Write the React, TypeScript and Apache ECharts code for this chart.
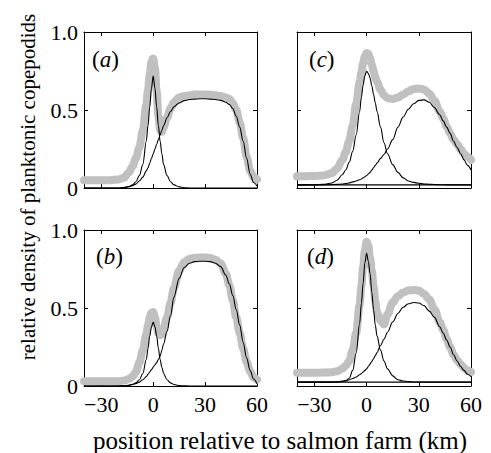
import React, { useEffect, useRef } from "react";
import * as echarts from "echarts";

const XS = [-40, -35, -30, -25, -20, -17, -14, -12, -10, -8, -6, -4, -3, -2, -1, 0, 1, 2, 3, 4, 5, 6, 8, 10, 12, 15, 18, 21, 24, 27, 30, 33, 36, 39, 42, 44, 46, 48, 50, 52, 54, 56, 58, 60];

const A_TOTAL = [0.05, 0.05, 0.05, 0.05, 0.055, 0.065, 0.1, 0.14, 0.19, 0.26, 0.37, 0.53, 0.63, 0.73, 0.81, 0.83, 0.77, 0.62, 0.46, 0.37, 0.36, 0.39, 0.45, 0.51, 0.55, 0.58, 0.59, 0.595, 0.6, 0.6, 0.6, 0.598, 0.595, 0.59, 0.58, 0.57, 0.545, 0.5, 0.42, 0.32, 0.2, 0.11, 0.07, 0.055];
const A_FARM = [0, 0, 0, 0, 0, 0.003, 0.01, 0.02, 0.04, 0.08, 0.15, 0.3, 0.4, 0.52, 0.64, 0.72, 0.64, 0.52, 0.4, 0.3, 0.22, 0.15, 0.08, 0.04, 0.02, 0.007, 0.002, 0, 0, 0, 0, 0, 0, 0, 0, 0, 0, 0, 0, 0, 0, 0, 0, 0];
const A_WILD = [0, 0, 0, 0, 0, 0.003, 0.008, 0.015, 0.025, 0.045, 0.07, 0.11, 0.13, 0.16, 0.19, 0.22, 0.25, 0.28, 0.31, 0.34, 0.37, 0.4, 0.45, 0.49, 0.52, 0.545, 0.56, 0.567, 0.57, 0.572, 0.572, 0.57, 0.567, 0.562, 0.55, 0.535, 0.51, 0.46, 0.39, 0.3, 0.19, 0.09, 0.035, 0.012];

const B_TOTAL = [0.03, 0.03, 0.03, 0.03, 0.03, 0.035, 0.045, 0.06, 0.09, 0.15, 0.23, 0.33, 0.39, 0.44, 0.47, 0.475, 0.44, 0.38, 0.34, 0.325, 0.33, 0.37, 0.44, 0.53, 0.63, 0.74, 0.795, 0.815, 0.822, 0.824, 0.824, 0.82, 0.81, 0.785, 0.72, 0.645, 0.55, 0.44, 0.34, 0.24, 0.155, 0.095, 0.055, 0.04];
const B_FARM = [0, 0, 0, 0, 0, 0.001, 0.004, 0.01, 0.02, 0.04, 0.08, 0.17, 0.24, 0.32, 0.38, 0.41, 0.38, 0.32, 0.24, 0.17, 0.12, 0.08, 0.04, 0.02, 0.01, 0.003, 0.001, 0, 0, 0, 0, 0, 0, 0, 0, 0, 0, 0, 0, 0, 0, 0, 0, 0];
const B_WILD = [0, 0, 0, 0, 0, 0.002, 0.005, 0.01, 0.015, 0.025, 0.04, 0.06, 0.075, 0.09, 0.105, 0.12, 0.135, 0.15, 0.17, 0.19, 0.23, 0.27, 0.35, 0.45, 0.57, 0.69, 0.76, 0.787, 0.797, 0.8, 0.8, 0.797, 0.787, 0.765, 0.71, 0.655, 0.58, 0.49, 0.39, 0.28, 0.18, 0.1, 0.045, 0.015];

const C_TOTAL = [0.075, 0.076, 0.077, 0.08, 0.095, 0.125, 0.18, 0.23, 0.3, 0.4, 0.54, 0.68, 0.74, 0.8, 0.845, 0.865, 0.86, 0.83, 0.79, 0.75, 0.71, 0.68, 0.63, 0.595, 0.575, 0.57, 0.58, 0.6, 0.62, 0.635, 0.638, 0.632, 0.605, 0.56, 0.49, 0.445, 0.395, 0.35, 0.31, 0.28, 0.25, 0.22, 0.2, 0.18];
const C_FARM = [0.02, 0.02, 0.021, 0.023, 0.032, 0.05, 0.085, 0.115, 0.165, 0.235, 0.34, 0.49, 0.58, 0.66, 0.72, 0.748, 0.735, 0.705, 0.655, 0.6, 0.545, 0.49, 0.39, 0.29, 0.22, 0.15, 0.1, 0.065, 0.045, 0.036, 0.03, 0.026, 0.024, 0.022, 0.021, 0.021, 0.02, 0.02, 0.02, 0.02, 0.02, 0.02, 0.02, 0.02];
const C_WILD = [0.02, 0.02, 0.02, 0.02, 0.021, 0.023, 0.026, 0.029, 0.033, 0.039, 0.045, 0.053, 0.058, 0.065, 0.072, 0.08, 0.09, 0.1, 0.115, 0.13, 0.145, 0.16, 0.19, 0.215, 0.25, 0.31, 0.39, 0.455, 0.505, 0.54, 0.562, 0.565, 0.55, 0.515, 0.47, 0.43, 0.39, 0.35, 0.3, 0.26, 0.22, 0.18, 0.145, 0.115];
const C_BASE = [0.02, 0.02];

const D_TOTAL = [0.085, 0.085, 0.085, 0.086, 0.088, 0.095, 0.11, 0.13, 0.16, 0.23, 0.34, 0.52, 0.64, 0.76, 0.87, 0.925, 0.9, 0.82, 0.74, 0.64, 0.54, 0.47, 0.42, 0.395, 0.46, 0.535, 0.575, 0.6, 0.612, 0.616, 0.612, 0.59, 0.555, 0.49, 0.41, 0.36, 0.3, 0.25, 0.2, 0.165, 0.14, 0.115, 0.1, 0.09];
const D_FARM = [0.025, 0.025, 0.025, 0.025, 0.025, 0.026, 0.03, 0.033, 0.05, 0.1, 0.21, 0.4, 0.53, 0.66, 0.79, 0.85, 0.8, 0.72, 0.6, 0.49, 0.39, 0.32, 0.23, 0.16, 0.11, 0.065, 0.04, 0.032, 0.028, 0.026, 0.025, 0.025, 0.025, 0.025, 0.025, 0.025, 0.025, 0.025, 0.025, 0.025, 0.025, 0.025, 0.025, 0.025];
const D_WILD = [0.025, 0.025, 0.025, 0.025, 0.025, 0.027, 0.03, 0.035, 0.04, 0.048, 0.058, 0.072, 0.08, 0.09, 0.1, 0.11, 0.125, 0.14, 0.158, 0.175, 0.195, 0.215, 0.26, 0.3, 0.345, 0.41, 0.465, 0.505, 0.527, 0.535, 0.532, 0.515, 0.48, 0.44, 0.38, 0.34, 0.295, 0.25, 0.2, 0.16, 0.125, 0.1, 0.075, 0.06];
const D_BASE = [0.025, 0.025];

const X_TICKS = [-30, 0, 30, 60];
const PANEL_LABELS = ["a", "c", "b", "d"];

const FONT = "Liberation Serif";

export default function App() {
  const ref = useRef<HTMLDivElement>(null);
  useEffect(() => {
    if (!ref.current) return;
    const chart = echarts.init(ref.current, undefined, { renderer: "svg" });
    const grids = [
      { left: 84, top: 32, width: 173, height: 156 },
      { left: 297, top: 32, width: 174, height: 156 },
      { left: 84, top: 230, width: 173, height: 156 },
      { left: 297, top: 230, width: 174, height: 156 },
    ];
    const panels = [
      { total: A_TOTAL, comps: [A_FARM, A_WILD], base: null as number[] | null },
      { total: C_TOTAL, comps: [C_FARM, C_WILD], base: C_BASE },
      { total: B_TOTAL, comps: [B_FARM, B_WILD], base: null },
      { total: D_TOTAL, comps: [D_FARM, D_WILD], base: D_BASE },
    ];
    const xFmt = (v: number) => (v < 0 ? "\u2212" + Math.abs(v) : String(v));
    const yFmt = (v: number) => (v === 0 ? "0" : v.toFixed(1));
    const line = { show: true, onZero: false, lineStyle: { color: "#000", width: 1 } };
    const xAxis: any[] = [];
    const yAxis: any[] = [];
    const series: any[] = [];
    grids.forEach((g, i) => {
      const bottomRow = i >= 2;
      const leftCol = i % 2 === 0;
      ["bottom", "top"].forEach((pos) => {
        xAxis.push({
          type: "value", gridIndex: i, position: pos, min: -40, max: 60,
          axisLine: line,
          axisTick: { show: true, inside: true, length: 4, customValues: X_TICKS, lineStyle: { color: "#000" } },
          axisLabel: {
            show: pos === "bottom" && bottomRow, customValues: X_TICKS, formatter: xFmt,
            fontFamily: FONT, fontSize: 22, color: "#000", margin: 7,
          },
          splitLine: { show: false },
        });
      });
      ["left", "right"].forEach((pos) => {
        yAxis.push({
          type: "value", gridIndex: i, position: pos, min: 0, max: 1, interval: 0.5,
          axisLine: line,
          axisTick: { show: true, inside: true, length: 4, lineStyle: { color: "#000" } },
          axisLabel: {
            show: pos === "left" && leftCol, formatter: yFmt,
            fontFamily: FONT, fontSize: 22, color: "#000", margin: 6,
          },
          splitLine: { show: false },
        });
      });
      const p = panels[i];
      series.push({
        type: "line", xAxisIndex: 2 * i, yAxisIndex: 2 * i, showSymbol: false, symbol: "none",
        smooth: 0.35, smoothMonotone: "x",
        data: XS.map((x, k) => [x, p.total[k]]),
        lineStyle: { color: "#c0c0c0", width: 8, cap: "round", join: "round" },
        z: 1,
      });
      p.comps.forEach((c) => {
        series.push({
          type: "line", xAxisIndex: 2 * i, yAxisIndex: 2 * i, showSymbol: false, symbol: "none",
          smooth: 0.35, smoothMonotone: "x",
          data: XS.map((x, k) => [x, c[k]]),
          lineStyle: { color: "#000", width: 1.1 },
          z: 3,
        });
      });
      if (p.base) {
        series.push({
          type: "line", xAxisIndex: 2 * i, yAxisIndex: 2 * i, showSymbol: false, symbol: "none",
          data: [[-40, p.base[0]], [60, p.base[1]]],
          lineStyle: { color: "#000", width: 1.1 },
          z: 3,
        });
      }
    });
    const labelPos = [[92, 59], [309, 59], [96, 256], [307, 256]];
    const graphic: any[] = PANEL_LABELS.map((l, i) => ({
      type: "text", x: labelPos[i][0], y: labelPos[i][1], z: 10,
      style: {
        text: "(" + "{i|" + l + "})",
        rich: { i: { fontStyle: "italic", fontFamily: FONT, fontSize: 23, fill: "#000" } },
        fontFamily: FONT, fontSize: 23, fill: "#000", align: "left", verticalAlign: "middle",
      },
    }));
    graphic.push({
      type: "text", x: 28, y: 187, rotation: Math.PI / 2,
      style: {
        text: "relative density of planktonic copepodids", fontFamily: FONT, fontSize: 21,
        fill: "#000", align: "center", verticalAlign: "middle",
      },
    });
    graphic.push({
      type: "text", x: 280, y: 440,
      style: {
        text: "position relative to salmon farm (km)", fontFamily: FONT, fontSize: 25,
        fill: "#000", align: "center", verticalAlign: "middle",
      },
    });
    chart.setOption({
      animation: false,
      backgroundColor: "#fff",
      grid: grids,
      xAxis, yAxis, series, graphic,
    });
    return () => chart.dispose();
  }, []);
  return <div ref={ref} style={{ position: "fixed", left: 0, top: 0, width: 491, height: 453 }} />;
}
